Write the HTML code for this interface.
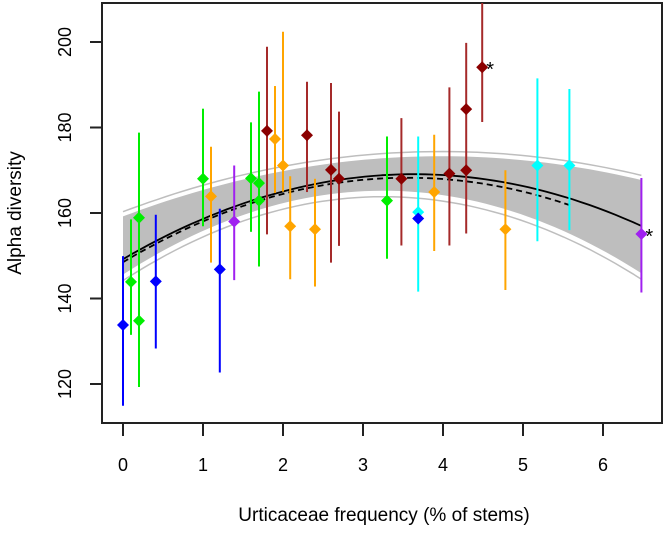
<!DOCTYPE html>
<html><head><meta charset="utf-8"><style>
html,body{margin:0;padding:0;background:#fff;}
svg text{font-family:"Liberation Sans",Arial,sans-serif;fill:#000;}
</style></head><body>
<svg id="chart" width="666" height="531" viewBox="0 0 666 531" xmlns="http://www.w3.org/2000/svg">
<rect x="102" y="3" width="560" height="420" fill="none" stroke="#222" stroke-width="2"/>
<g id="band"></g>
<g id="curves"></g>
<g id="pts"></g>
<g id="axes"></g>
<text transform="translate(21,213) rotate(-90)" text-anchor="middle" font-size="19">Alpha diversity</text>
<text x="384" y="521" text-anchor="middle" font-size="19">Urticaceae frequency (% of stems)</text>
</svg>
<script>
const xs   = [0,   0.1, 0.2, 0.2, 0.41,1.0, 1.1, 1.21,1.39,1.6, 1.7, 1.7, 1.8, 1.9, 2.0, 2.09,2.3, 2.4, 2.6, 2.7, 3.3, 3.48,3.69,3.69,3.89,4.08,4.29,4.29,4.49,4.78,5.18,5.58,6.48];
const ys   = [133.8,143.9,158.9,134.8,144, 168, 163.9,146.8,158, 168.1,167, 162.9,179.2,177.3,171.1,156.9,178.2,156.2,170.1,168, 162.9,168, 160.2,158.7,164.9,169.2,184.3,170, 194.1,156.2,171.1,171.1,155.1];
const his  = [149.9,158.5,178.8,null,159.6,184.4,175.5,161, 171.1,181.2,188.4,null,198.9,189.7,202.4,168.6,190.7,168, 190.4,183.7,177.9,182.2,177.9,null,178.3,189.4,199.8,null,210, 170, 191.5,189, 168.2];
const los  = [114.9,131.5,119.3,null,128.3,156.9,148.4,122.7,144.3,155.6,147.5,null,155, 164.7,165, 144.5,164.9,142.8,148.4,152.3,149.3,152.4,141.6,null,151.1,152.4,155.2,null,181.3,142, 153.4,156, 141.4];
const groups = ['b','g','g','g','b','g','o','b','p','g','g','g','r','o','o','o','r','o','r','r','g','r','c','b','o','r','r','r','r','o','c','c','p'];
const starred = [28,32];
const fitSolid  = [149.2,10.92,-1.5];
const fitDashed = [148.5,11.1,-1.56];
const bandUpper = [159.2,7.08,-0.89];
const bandLower = [145.6,12.06,-1.854];
const outerUpper= [160.3,7.08,-0.89];
const outerLower= [144.2,12.06,-1.854];
const xTicks = [0,1,2,3,4,5,6];
const yTicks = [120,140,160,180,200];

const NS='http://www.w3.org/2000/svg';
const X=v=>123+v*80;
const Y=v=>42+(200-v)*4.275;
const col={b:'#0000ff',g:'#00ee00',o:'#ffa500',r:'#8b0000',c:'#00ffff',p:'#a020f0'};
const barCol={b:'#0000ff',g:'#00ee00',o:'#ffa500',r:'#a52a2a',c:'#00ffff',p:'#a020f0'};
function mk(tag,attrs,parent){const e=document.createElementNS(NS,tag);for(const k in attrs)e.setAttribute(k,attrs[k]);parent.appendChild(e);return e;}
const q=(c,x)=>c[0]+c[1]*x+c[2]*x*x;
function path(c,x0,x1){let d='';for(let i=0;i<=60;i++){const x=x0+(x1-x0)*i/60;d+=(i?'L':'M')+X(x).toFixed(1)+','+Y(q(c,x)).toFixed(1);}return d;}

const band=document.getElementById('band');
let d='';for(let i=0;i<=60;i++){const x=6.48*i/60;d+=(i?'L':'M')+X(x)+','+Y(q(bandUpper,x));}
for(let i=60;i>=0;i--){const x=6.48*i/60;d+='L'+X(x)+','+Y(q(bandLower,x));}
const poly=mk('path',{d:d+'Z',fill:'#bebebe'},band);


[outerUpper,outerLower].forEach(c=>{const p=mk('path',{d:path(c,0,6.48),fill:'none',stroke:'#bebebe','stroke-width':1.5},band);

});

const curves=document.getElementById('curves');
const s=mk('path',{d:path(fitSolid,0,6.48),fill:'none',stroke:'#000','stroke-width':1.8},curves);


const dl=mk('path',{d:path(fitDashed,0,5.6),fill:'none',stroke:'#000','stroke-width':1.8,'stroke-dasharray':'6,4'},curves);



const pts=document.getElementById('pts');
xs.forEach((x,i)=>{
  if(his[i]!==null){const l=mk('line',{x1:X(x),x2:X(x),y1:Math.max(3,Y(his[i])),y2:Y(los[i]),stroke:barCol[groups[i]],'stroke-width':2},pts);
  
  }
});
xs.forEach((x,i)=>{
  const cx=X(x),cy=Y(ys[i]);
  const m=mk('path',{d:`M${cx},${cy-6}L${cx+6},${cy}L${cx},${cy+6}L${cx-6},${cy}Z`,fill:col[groups[i]]},pts);
  
  
  if(starred.includes(i)){const t=mk('text',{x:cx+4,y:cy+9,'font-size':20,fill:groups[i]==='p'?col.p:'#000'},pts);t.textContent='*';
  
  }
});

const axes=document.getElementById('axes');
xTicks.forEach(v=>{const l=mk('line',{x1:X(v),x2:X(v),y1:423,y2:436,stroke:'#222','stroke-width':2},axes);


const t=mk('text',{x:X(v),y:471,'text-anchor':'middle','font-size':18},axes);t.textContent=v;

});
yTicks.forEach(v=>{const l=mk('line',{x1:90,x2:102,y1:Y(v),y2:Y(v),stroke:'#222','stroke-width':2},axes);


const t=mk('text',{transform:`translate(71,${Y(v)}) rotate(-90)`,'text-anchor':'middle','font-size':18},axes);t.textContent=v;

});
</script>
</body></html>
